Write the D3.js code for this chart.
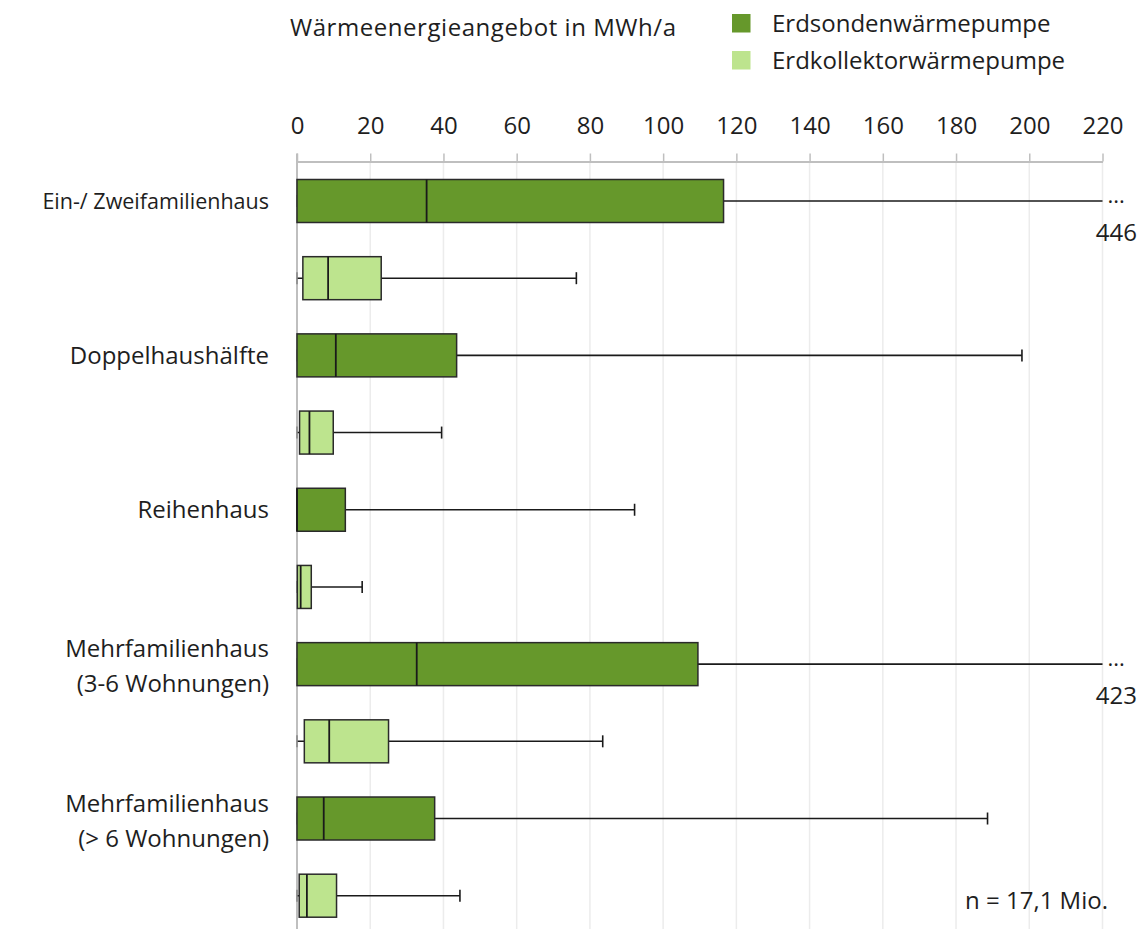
<!DOCTYPE html>
<html><head><meta charset="utf-8">
<script src="https://cdn.jsdelivr.net/npm/d3@7"></script>
<style>body{margin:0;background:#fff}svg{display:block}text{font-family:"Open Sans",sans-serif;fill:#1e1e1e}</style>
</head><body>
<svg id="c" width="1143" height="929"></svg>
<script>
const categories = ["Ein-/ Zweifamilienhaus","Doppelhaushälfte","Reihenhaus","Mehrfamilienhaus|(3-6 Wohnungen)","Mehrfamilienhaus|(> 6 Wohnungen)"];
const seriesNames = ["Erdsondenwärmepumpe","Erdkollektorwärmepumpe"];
const seriesColors = ["#66982b","#bde48e"];
const xTicks = [0,20,40,60,80,100,120,140,160,180,200,220];
const axisMax = 220;
// Erdsondenwärmepumpe
const sondeMin = [0,0,0,0,0];
const sondeQ1  = [0,0,0,0,0];
const sondeMed = [35.4,10.6,0,32.7,7.3];
const sondeQ3  = [116.5,43.6,13.2,109.5,37.6];
const sondeMax = [446,198,92.2,423,188.6];
// Erdkollektorwärmepumpe
const kollMin = [0,0,0,0,0];
const kollQ1  = [1.6,0.7,0.1,2.0,0.6];
const kollMed = [8.5,3.4,1.0,8.8,2.7];
const kollQ3  = [23.0,9.9,3.9,25.0,10.8];
const kollMax = [76.3,39.5,17.8,83.5,44.5];
const title = "Wärmeenergieangebot in MWh/a";
const note = "n = 17,1 Mio.";

const FS = 24;
const rows = [];
categories.forEach((c,i)=>{
  rows.push({cat:c,i,s:0,min:sondeMin[i],q1:sondeQ1[i],med:sondeMed[i],q3:sondeQ3[i],max:sondeMax[i]});
  rows.push({cat:c,i,s:1,min:kollMin[i],q1:kollQ1[i],med:kollMed[i],q3:kollQ3[i],max:kollMax[i]});
});

const svg = d3.select("#c");
const x = d3.scaleLinear().domain([0,axisMax]).range([297,1102.5]);
const y = d3.scalePoint().domain(d3.range(rows.length)).range([201,895.7]);
const axisY = 161.5, bottomY = 929, boxH = 43, capH = 12;

// grid
svg.append("g").selectAll("line").data(xTicks.filter(t=>t>0)).join("line")
  .attr("x1",d=>x(d)).attr("x2",d=>x(d)).attr("y1",axisY).attr("y2",bottomY)
  .attr("stroke","#ececec").attr("stroke-width",1.5);
// zero axis line
svg.append("line").attr("x1",x(0)).attr("x2",x(0)).attr("y1",axisY-8).attr("y2",bottomY)
  .attr("stroke","#bfbfbf").attr("stroke-width",2);

// top axis
const ax = svg.append("g").attr("transform",`translate(0,${axisY})`)
  .call(d3.axisTop(x).tickValues(xTicks).tickSize(8).tickPadding(19.5).tickSizeOuter(0));
ax.select(".domain").attr("stroke","#bfbfbf").attr("stroke-width",2);
ax.selectAll(".tick line").attr("stroke","#bfbfbf").attr("stroke-width",1.5);
ax.selectAll(".tick text").attr("font-size",FS).attr("font-family","Open Sans").attr("fill","#1e1e1e");

// whiskers
const g = svg.append("g");
rows.forEach((r,k)=>{
  const cy = y(k);
  const clipped = r.max > axisMax;
  const xe = x(Math.min(r.max,axisMax));
  g.append("line").attr("x1",x(r.min)).attr("x2",xe).attr("y1",cy).attr("y2",cy)
    .attr("stroke","#1a1a1a").attr("stroke-width",1.6);
  if(!clipped){
    g.append("line").attr("x1",xe).attr("x2",xe).attr("y1",cy-capH/2).attr("y2",cy+capH/2)
      .attr("stroke","#1a1a1a").attr("stroke-width",1.6);
  } else {
    g.append("text").attr("x",xe+5).attr("y",cy+1.5).attr("font-size",22).text("...");
    g.append("text").attr("x",1137).attr("y",cy+40).attr("text-anchor","end").attr("font-size",FS).text(String(r.max));
  }
  g.append("line").attr("x1",x(r.min)).attr("x2",x(r.min)).attr("y1",cy-capH/2).attr("y2",cy+capH/2)
    .attr("stroke","#8a8a8a").attr("stroke-width",1.6);
  g.append("rect").attr("x",x(r.q1)).attr("y",cy-boxH/2).attr("width",x(r.q3)-x(r.q1)).attr("height",boxH)
    .attr("fill",seriesColors[r.s]).attr("stroke","#2a2a2a").attr("stroke-width",1.5);
  g.append("line").attr("x1",x(r.med)).attr("x2",x(r.med)).attr("y1",cy-boxH/2).attr("y2",cy+boxH/2)
    .attr("stroke","#1a1a1a").attr("stroke-width",1.8);
});

// category labels
categories.forEach((c,i)=>{
  const cy = y(i*2);
  const lines = c.split("|");
  lines.forEach((l,j)=>{
    const off = lines.length>1 ? (j-0.5)*35 + 2 : 0;
    const t = svg.append("text").attr("x",269).attr("y",cy + off + 8.5).attr("text-anchor","end")
      .attr("font-size",FS).text(l);
    if(i===0) t.attr("font-size",21.5).attr("y",cy+8);
  });
});

// title & legend
svg.append("text").attr("x",290).attr("y",36).attr("font-size",FS).text(title)
  .attr("textLength",386).attr("lengthAdjust","spacing");
seriesNames.forEach((s,i)=>{
  svg.append("rect").attr("x",732).attr("y",14+i*37).attr("width",18.5).attr("height",18.5).attr("fill",seriesColors[i]);
  svg.append("text").attr("x",772).attr("y",32+i*37).attr("font-size",FS).text(s);
});
svg.append("text").attr("x",1108).attr("y",909).attr("text-anchor","end").attr("font-size",FS).text(note);
</script>
</body></html>
